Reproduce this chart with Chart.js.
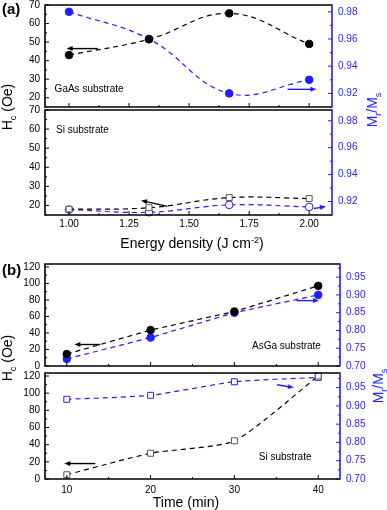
<!DOCTYPE html>
<html>
<head>
<meta charset="utf-8">
<script src="https://cdn.jsdelivr.net/npm/chart.js@4.4.1/dist/chart.umd.min.js"></script>
<style>
  body { margin: 0; background: #fff; font-family: "Liberation Sans", Arial, sans-serif; }
  #wrap { position: relative; width: 387px; height: 510px; overflow: hidden; }
  canvas { position: absolute; left: 0; }
  .t { position: absolute; white-space: nowrap; font-size: 14px; color: #000; line-height: 1; }
  .rot { transform: translate(-50%, -50%) rotate(-90deg); }
  .mid { transform: translate(-50%, -50%); }
  .blue { color: #1f1fff; }
  sub, sup { font-size: 9px; }
  .lab { font-weight: bold; font-size: 15px; }
</style>
</head>
<body>
<div id="wrap">
  <canvas id="a1" width="387" height="112" style="top:0px"></canvas>
  <canvas id="a2" width="387" height="132" style="top:100px"></canvas>
  <canvas id="b1" width="387" height="116" style="top:255px"></canvas>
  <canvas id="b2" width="387" height="135" style="top:363px"></canvas>

  <div class="t lab" style="left:2px;top:1px">(a)</div>
  <div class="t lab" style="left:2px;top:262px">(b)</div>
  <div class="t rot" style="left:9px;top:107px">H<sub>c</sub> (Oe)</div>
  <div class="t rot blue" style="left:374px;top:110px">M<sub>r</sub>/M<sub>s</sub></div>
  <div class="t mid" style="left:192px;top:243px">Energy density (J cm<sup>-2</sup>)</div>
  <div class="t rot" style="left:9px;top:358px">H<sub>c</sub> (Oe)</div>
  <div class="t rot blue" style="left:380px;top:386px">M<sub>r</sub>/M<sub>s</sub></div>
  <div class="t mid" style="left:186px;top:502px">Time (min)</div>
</div>
<script>
// panel (a): energy density series
var energy = [1.0, 1.333, 1.667, 2.0];
var gaasHc = [43, 51.5, 65.5, 49];
var gaasMrMs = [0.98, 0.96, 0.92, 0.93];
var siHcA = [18, 18.8, 24.1, 23.6];
var siMrMsA = [0.914, 0.912, 0.9175, 0.916];

// panel (b): time series
var time = [10, 20, 30, 40];
var asgaHc = [14.5, 43.5, 66, 97];
var asgaMrMs = [0.72, 0.78, 0.85, 0.90];
var siHcB = [5, 30, 44.5, 120];
var siMrMsB = [0.918, 0.929, 0.966, 0.978];

// tick labels
var energyTicks = [1.00, 1.25, 1.50, 1.75, 2.00];
var hcTicksA = [20, 30, 40, 50, 60, 70];
var ratioTicksA = [0.92, 0.94, 0.96, 0.98];
var timeTicks = [10, 20, 30, 40];
var hcTicksB = [0, 20, 40, 60, 80, 100, 120];
var ratioTicksB = [0.70, 0.75, 0.80, 0.85, 0.90, 0.95];

var BLUE = '#1f1fff';
var FONT = '"Liberation Sans", Arial, sans-serif';

function pts(xs, ys) {
    return xs.map(function (x, i) { return { x: x, y: ys[i] }; });
}

// draws frame, inside ticks, arrows and in-plot texts
var decor = {
    id: 'decor',
    afterDatasetsDraw: function (chart, args, o) {
        var ctx = chart.ctx, a = chart.chartArea, s = chart.scales;
        ctx.save();

        function ticks(scale, majors, step, side, color) {
            var lo = Math.ceil(scale.min / step - 1e-6), hi = Math.floor(scale.max / step + 1e-6);
            ctx.strokeStyle = color;
            ctx.lineWidth = 1;
            for (var i = lo; i <= hi; i++) {
                var v = i * step;
                var major = majors.some(function (m) { return Math.abs(m - v) < step / 10; });
                var len = major ? 4 : 2;
                var p = scale.getPixelForValue(v);
                ctx.beginPath();
                if (side === 'bottom') { ctx.moveTo(p, a.bottom); ctx.lineTo(p, a.bottom - len); }
                if (side === 'left') { ctx.moveTo(a.left, p); ctx.lineTo(a.left + len, p); }
                if (side === 'right') { ctx.moveTo(a.right, p); ctx.lineTo(a.right - len, p); }
                ctx.stroke();
            }
        }
        ticks(s.x, o.xMajor, o.xMinor, 'bottom', '#000');
        ticks(s.y, o.yMajor, o.yMinor, 'left', '#000');
        ticks(s.y2, o.y2Major, o.y2Minor, 'right', BLUE);

        // frame
        ctx.lineWidth = 1.6;
        ctx.strokeStyle = '#000';
        ctx.beginPath();
        ctx.moveTo(a.right, a.top); ctx.lineTo(a.left, a.top);
        ctx.lineTo(a.left, a.bottom); ctx.lineTo(a.right, a.bottom);
        ctx.stroke();
        ctx.strokeStyle = BLUE;
        ctx.beginPath();
        ctx.moveTo(a.right, a.top - 0.8); ctx.lineTo(a.right, a.bottom + 0.8);
        ctx.stroke();

        // arrows
        (o.arrows || []).forEach(function (ar) {
            var ys = s[ar.axis];
            var x1 = s.x.getPixelForValue(ar.from[0]), y1 = ys.getPixelForValue(ar.from[1]);
            var x2 = s.x.getPixelForValue(ar.to[0]), y2 = ys.getPixelForValue(ar.to[1]);
            var ang = Math.atan2(y2 - y1, x2 - x1);
            ctx.strokeStyle = ar.color;
            ctx.fillStyle = ar.color;
            ctx.lineWidth = 1.4;
            ctx.beginPath();
            ctx.moveTo(x1, y1);
            ctx.lineTo(x2 - 5 * Math.cos(ang), y2 - 5 * Math.sin(ang));
            ctx.stroke();
            ctx.beginPath();
            ctx.moveTo(x2, y2);
            ctx.lineTo(x2 - 6 * Math.cos(ang) + 2.5 * Math.sin(ang), y2 - 6 * Math.sin(ang) - 2.5 * Math.cos(ang));
            ctx.lineTo(x2 - 6 * Math.cos(ang) - 2.5 * Math.sin(ang), y2 - 6 * Math.sin(ang) + 2.5 * Math.cos(ang));
            ctx.closePath();
            ctx.fill();
        });

        // in-plot labels
        ctx.fillStyle = '#000';
        ctx.font = '10px ' + FONT;
        ctx.textBaseline = 'middle';
        ctx.textAlign = 'left';
        (o.texts || []).forEach(function (t) {
            ctx.fillText(t.text, s.x.getPixelForValue(t.x), s.y.getPixelForValue(t.y));
        });
        ctx.restore();
    }
};

function lineSet(data, axis, color, style, filled, tension) {
    return {
        data: data,
        yAxisID: axis,
        borderColor: color,
        borderWidth: 1.2,
        borderDash: [5, 4],
        tension: tension,
        pointStyle: style,
        pointRadius: style === 'rect' ? 4.2 : 3.8,
        pointBorderWidth: 1,
        pointBorderColor: color === '#000' && !filled ? '#555' : color,
        pointBackgroundColor: filled ? color : '#fff',
        clip: false
    };
}

// fixed axis sizes so the plot areas land where the reference has them
function fixedW(w) {
    return function (scale) { scale.width = w; scale.paddingTop = 0; scale.paddingBottom = 0; };
}
function fixedH(h) {
    return function (scale) { scale.height = h; scale.paddingLeft = 0; scale.paddingRight = 0; };
}
function useTicks(list) {
    return function (scale) { scale.ticks = list.map(function (v) { return { value: v }; }); };
}

function makeChart(id, cfg) {
    return new Chart(document.getElementById(id), {
        type: 'line',
        data: { datasets: cfg.datasets },
        options: {
            responsive: false,
            animation: false,
            devicePixelRatio: 1,
            layout: { padding: { top: cfg.padTop, bottom: cfg.padBottom, left: 0, right: 0 } },
            plugins: {
                legend: { display: false },
                tooltip: { enabled: false },
                decor: cfg.decor
            },
            scales: {
                x: {
                    type: 'linear',
                    min: cfg.xMin, max: cfg.xMax,
                    grid: { display: false, drawTicks: false }, border: { display: false },
                    afterBuildTicks: useTicks(cfg.xTicks),
                    afterFit: fixedH(cfg.xHeight),
                    ticks: {
                        display: cfg.xLabels,
                        padding: cfg.xPad,
                        color: '#000',
                        maxRotation: 0,
                        font: { size: 10, family: FONT },
                        callback: cfg.xFormat
                    }
                },
                y: {
                    position: 'left',
                    min: cfg.yMin, max: cfg.yMax,
                    grid: { display: false, drawTicks: false }, border: { display: false },
                    afterBuildTicks: useTicks(cfg.yTicks),
                    afterFit: fixedW(45),
                    ticks: {
                        padding: 5,
                        color: '#000',
                        font: { size: 10, family: FONT }
                    }
                },
                y2: {
                    position: 'right',
                    min: cfg.y2Min, max: cfg.y2Max,
                    grid: { display: false, drawTicks: false }, border: { display: false },
                    afterBuildTicks: useTicks(cfg.y2Ticks),
                    afterFit: fixedW(cfg.rightW),
                    ticks: {
                        padding: 6,
                        color: BLUE,
                        font: { size: 10, family: FONT },
                        callback: function (v) { return Number(v).toFixed(2); }
                    }
                }
            }
        },
        plugins: [decor]
    });
}

var decorA = { xMajor: energyTicks, xMinor: 0.125, yMajor: hcTicksA, yMinor: 5, y2Major: ratioTicksA, y2Minor: 0.01 };
var decorB = { xMajor: timeTicks, xMinor: 5, yMajor: hcTicksB, yMinor: 10, y2Major: ratioTicksB, y2Minor: 0.025 };
var fmt2 = function (v) { return Number(v).toFixed(2); };
var fmt0 = function (v) { return String(v); };

makeChart('a1', {
    datasets: [
        lineSet(pts(energy, gaasHc), 'y', '#000', 'circle', true, 0.4),
        lineSet(pts(energy, gaasMrMs), 'y2', BLUE, 'circle', true, 0.4)
    ],
    padTop: 5, padBottom: 4, xHeight: 0, xLabels: false, xPad: 0, xFormat: fmt2,
    xMin: 0.9, xMax: 2.095, xTicks: energyTicks,
    yMin: 15, yMax: 70, yTicks: hcTicksA,
    y2Min: 0.91, y2Max: 0.985, y2Ticks: ratioTicksA, rightW: 55,
    decor: Object.assign({
        arrows: [
            { axis: 'y', from: [1.12, 46.5], to: [0.99, 46.5], color: '#000' },
            { axis: 'y2', from: [1.91, 0.923], to: [2.03, 0.923], color: BLUE }
        ],
        texts: [{ text: 'GaAs substrate', x: 0.94, y: 24.5 }]
    }, decorA)
});

makeChart('a2', {
    datasets: [
        lineSet(pts(energy, siHcA), 'y', '#000', 'rect', false, 0.4),
        lineSet(pts(energy, siMrMsA), 'y2', BLUE, 'circle', false, 0.4)
    ],
    padTop: 10, padBottom: 0, xHeight: 17, xLabels: true, xPad: 3, xFormat: fmt2,
    xMin: 0.9, xMax: 2.095, xTicks: energyTicks,
    yMin: 15, yMax: 70, yTicks: hcTicksA,
    y2Min: 0.91, y2Max: 0.988, y2Ticks: ratioTicksA, rightW: 55,
    decor: Object.assign({
        arrows: [
            { axis: 'y', from: [1.41, 19.5], to: [1.3, 22.6], color: '#000' },
            { axis: 'y2', from: [2.02, 0.9148], to: [2.07, 0.9163], color: BLUE }
        ],
        texts: [{ text: 'Si substrate', x: 0.946, y: 59.5 }]
    }, decorA)
});

makeChart('b1', {
    datasets: [
        lineSet(pts(time, asgaHc), 'y', '#000', 'circle', true, 0),
        lineSet(pts(time, asgaMrMs), 'y2', BLUE, 'circle', true, 0)
    ],
    padTop: 9, padBottom: 3, xHeight: 0, xLabels: false, xPad: 0, xFormat: fmt0,
    xMin: 7.4, xMax: 42.6, xTicks: timeTicks,
    yMin: 0, yMax: 123.5, yTicks: hcTicksB,
    y2Min: 0.70, y2Max: 0.987, y2Ticks: ratioTicksB, rightW: 47,
    decor: Object.assign({
        arrows: [
            { axis: 'y', from: [14, 26], to: [10.9, 26], color: '#000' },
            { axis: 'y2', from: [37.4, 0.884], to: [40.1, 0.884], color: BLUE }
        ],
        texts: [{ text: 'AsGa substrate', x: 32.1, y: 23.8 }]
    }, decorB)
});

makeChart('b2', {
    datasets: [
        lineSet(pts(time, siHcB), 'y', '#000', 'rect', false, 0.2),
        lineSet(pts(time, siMrMsB), 'y2', BLUE, 'rect', false, 0.2)
    ],
    padTop: 10, padBottom: 0, xHeight: 19, xLabels: true, xPad: 5, xFormat: fmt0,
    xMin: 7.4, xMax: 42.6, xTicks: timeTicks,
    yMin: 0, yMax: 123.5, yTicks: hcTicksB,
    y2Min: 0.70, y2Max: 0.99, y2Ticks: ratioTicksB, rightW: 47,
    decor: Object.assign({
        arrows: [
            { axis: 'y', from: [13.4, 18], to: [9.7, 18], color: '#000' },
            { axis: 'y2', from: [35.1, 0.958], to: [37.1, 0.95], color: BLUE }
        ],
        texts: [{ text: 'Si substrate', x: 32.9, y: 25 }]
    }, decorB)
});
</script>
</body>
</html>
